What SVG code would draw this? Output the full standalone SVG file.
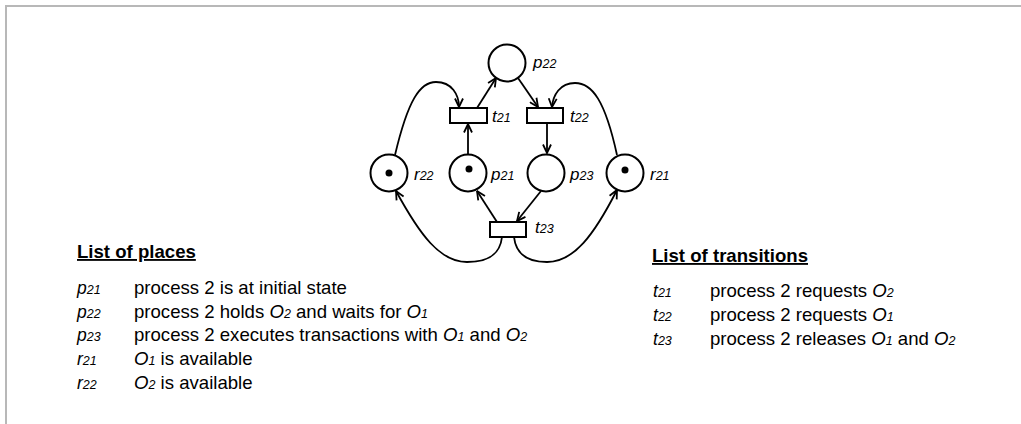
<svg xmlns="http://www.w3.org/2000/svg" width="1021" height="424" viewBox="0 0 1021 424">
<style>
.pl{fill:#fff;stroke:#000;stroke-width:2}
.tr{fill:#fff;stroke:#000;stroke-width:2}
.tok{fill:#000}
.arc{fill:none;stroke:#000;stroke-width:1.8}
.lab{font-family:"Liberation Sans",Arial,sans-serif;font-style:italic;font-size:17px;fill:#000}
.sub{font-size:12.5px}
.txt{font-family:"Liberation Sans",Arial,sans-serif;font-size:18.6px;fill:#000}
.hd{font-family:"Liberation Sans",Arial,sans-serif;font-size:18.6px;font-weight:bold;text-decoration:underline;fill:#000}
.it{font-style:italic}
.s{font-size:12.5px;font-style:italic}
.ll{font-family:"Liberation Sans",Arial,sans-serif;font-style:italic;font-size:17.5px;fill:#000}
.ls{font-size:12.5px}
</style>
<defs>
<marker id="arr" viewBox="0 0 10 10" refX="9.5" refY="5" markerWidth="10" markerHeight="10" orient="auto" markerUnits="userSpaceOnUse">
<path d="M1,1 L9.5,5 L1,9" fill="none" stroke="#000" stroke-width="1.8"/>
</marker>
</defs>
<rect width="1021" height="424" fill="#fff"/>
<g id="frame" stroke="#b8b8b8" stroke-width="2">
<line x1="5" y1="6" x2="1021" y2="6"/>
<line x1="6" y1="5" x2="6" y2="424"/>
</g>
<g id="connectors">
<path class="arc" marker-end="url(#arr)" d="M395,155 C408,100 420,82 436,82 C452,82 459,95 459,107"/>
<path class="arc" marker-end="url(#arr)" d="M477,108 L496,78"/>
<path class="arc" marker-end="url(#arr)" d="M518,78 L538,107"/>
<path class="arc" marker-end="url(#arr)" d="M617,155 C605,100 592,83 575,83 C560,83 553,95 552,107"/>
<path class="arc" marker-end="url(#arr)" d="M468,154 L468,124"/>
<path class="arc" marker-end="url(#arr)" d="M547,123 L547,153"/>
<path class="arc" marker-end="url(#arr)" d="M541,191 L517,221"/>
<path class="arc" marker-end="url(#arr)" d="M497,222 L477,191"/>
<path class="arc" marker-end="url(#arr)" d="M502,237 C500,255 488,262 467,262 C440,262 420,235 396,191"/>
<path class="arc" marker-end="url(#arr)" d="M514,237 C516,255 528,262 547,262 C574,262 594,235 617,190"/>
</g>
<g id="p22"><circle class="pl" cx="507" cy="63" r="18.5"/><text class="lab" x="533" y="68">p<tspan class="sub">22</tspan></text></g>
<g id="r22"><circle class="pl" cx="389" cy="173" r="18.5"/><circle class="tok" cx="389" cy="173" r="3.5"/><text class="lab" x="414" y="180">r<tspan class="sub">22</tspan></text></g>
<g id="p21"><circle class="pl" cx="468" cy="173" r="18.5"/><circle class="tok" cx="469" cy="169" r="3.5"/><text class="lab" x="491" y="180">p<tspan class="sub">21</tspan></text></g>
<g id="p23"><circle class="pl" cx="546" cy="173" r="18.5"/><text class="lab" x="570" y="180">p<tspan class="sub">23</tspan></text></g>
<g id="r21"><circle class="pl" cx="625" cy="173" r="18.5"/><circle class="tok" cx="625" cy="170" r="3.5"/><text class="lab" x="650" y="180">r<tspan class="sub">21</tspan></text></g>
<g id="t21"><rect class="tr" x="450" y="108" width="37" height="15"/><text class="lab" x="492" y="122">t<tspan class="sub">21</tspan></text></g>
<g id="t22"><rect class="tr" x="527" y="108" width="36" height="15"/><text class="lab" x="570" y="122">t<tspan class="sub">22</tspan></text></g>
<g id="t23"><rect class="tr" x="490" y="222" width="36" height="15"/><text class="lab" x="535" y="233">t<tspan class="sub">23</tspan></text></g>
<g id="places-list">
<text class="hd" x="77" y="258">List of places</text>
<text class="ll" x="77" y="294">p<tspan class="ls">21</tspan></text>
<text class="txt" x="134" y="294">process 2 is at initial state</text>
<text class="ll" x="77" y="318">p<tspan class="ls">22</tspan></text>
<text class="txt" x="134" y="318">process 2 holds <tspan class="it">O</tspan><tspan class="s">2</tspan> and waits for <tspan class="it">O</tspan><tspan class="s">1</tspan></text>
<text class="ll" x="77" y="341">p<tspan class="ls">23</tspan></text>
<text class="txt" x="134" y="341">process 2 executes transactions with <tspan class="it">O</tspan><tspan class="s">1</tspan> and <tspan class="it">O</tspan><tspan class="s">2</tspan></text>
<text class="ll" x="77" y="365">r<tspan class="ls">21</tspan></text>
<text class="txt" x="134" y="365"><tspan class="it">O</tspan><tspan class="s">1</tspan> is available</text>
<text class="ll" x="77" y="389">r<tspan class="ls">22</tspan></text>
<text class="txt" x="134" y="389"><tspan class="it">O</tspan><tspan class="s">2</tspan> is available</text>
</g>
<g id="transitions-list">
<text class="hd" x="652" y="262">List of transitions</text>
<text class="ll" x="653" y="297">t<tspan class="ls">21</tspan></text>
<text class="txt" x="710" y="297">process 2 requests <tspan class="it">O</tspan><tspan class="s">2</tspan></text>
<text class="ll" x="653" y="321">t<tspan class="ls">22</tspan></text>
<text class="txt" x="710" y="321">process 2 requests <tspan class="it">O</tspan><tspan class="s">1</tspan></text>
<text class="ll" x="653" y="345">t<tspan class="ls">23</tspan></text>
<text class="txt" x="710" y="345">process 2 releases <tspan class="it">O</tspan><tspan class="s">1</tspan> and <tspan class="it">O</tspan><tspan class="s">2</tspan></text>
</g>
</svg>
